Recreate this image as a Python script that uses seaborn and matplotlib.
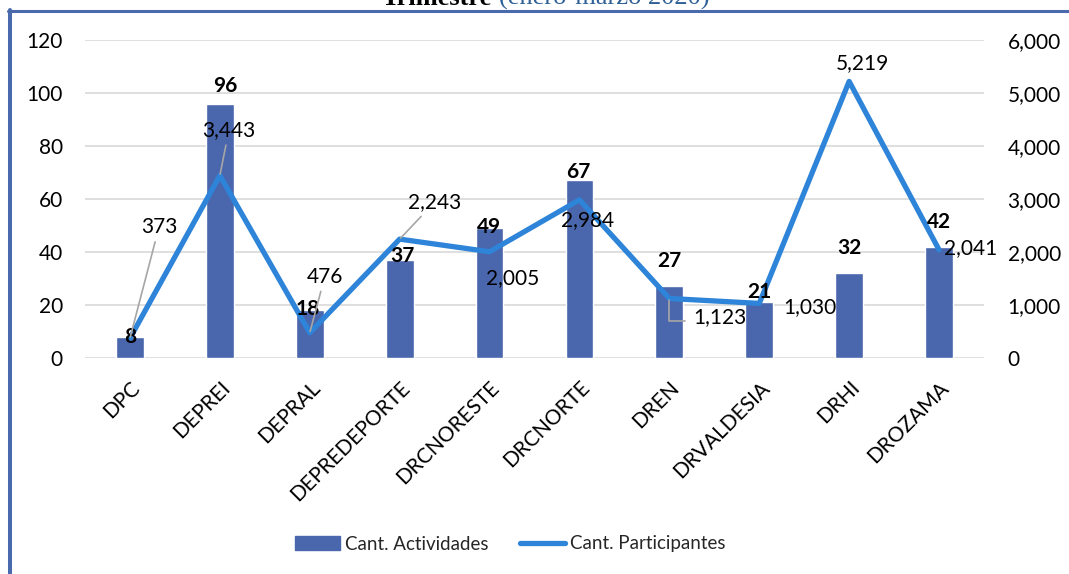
import numpy as np
import pandas as pd
import matplotlib.pyplot as plt
import seaborn as sns
from matplotlib.lines import Line2D
from matplotlib.patches import Patch
from matplotlib.ticker import FuncFormatter, MultipleLocator

# datos del trimestre
regiones = ['DPC', 'DEPREI', 'DEPRAL', 'DEPREDEPORTE', 'DRCNORESTE',
            'DRCNORTE', 'DREN', 'DRVALDESIA', 'DRHI', 'DROZAMA']
actividades = [8, 96, 18, 37, 49, 67, 27, 21, 32, 42]
participantes = [373, 3443, 476, 2243, 2005, 2984, 1123, 1030, 5219, 2041]

# where the excel labels were placed (pixel offsets from the mark)
off_act = [(0, 0), (5, 18), (-2, 1), (3, 4), (-1, 1), (-1, 8), (0, 25), (0, 10), (0, 25), (0, 25)]
off_part = [(29, 111), (9, 45), (15, 56), (35, 37), (23, -26), (8, -20), (51, -19), (51, -4), (13, 18), (32, 2)]
leader = ['line', 'line', 'line', 'line', None, None, 'elbow', None, None, None]

bar_color = '#4A66AC'
line_color = '#2E84D8'
frame_color = '#4A6AAE'
gray = '#A6A6A6'

sns.set_theme(style='white')
plt.rcParams['font.family'] = ['Lato', 'DejaVu Sans']

df = pd.DataFrame({'region': regiones, 'actividades': actividades, 'participantes': participantes})

fig = plt.figure(figsize=(10.69, 5.74), dpi=100)
W, H = 1069, 574
ax1 = fig.add_axes([85 / W, 1 - 358 / H, (984 - 85) / W, (358 - 40) / H])
ax2 = ax1.twinx()

sns.barplot(data=df, x='region', y='actividades', color=bar_color, saturation=1,
            width=0.31, ax=ax1, zorder=2)
sns.lineplot(x=np.arange(len(regiones)), y=df['participantes'], ax=ax2, color=line_color,
             lw=3.8, solid_joinstyle='round', solid_capstyle='round')

ax1.set_xlim(-0.5, len(regiones) - 0.5)
ax1.set_ylim(0, 120)
ax2.set_ylim(0, 6000)
ax1.yaxis.set_major_locator(MultipleLocator(20))
ax2.yaxis.set_major_locator(MultipleLocator(1000))
ax2.yaxis.set_major_formatter(FuncFormatter(lambda v, p: f'{int(v):,}'))

ax1.yaxis.grid(True, color='#D9D9D9', lw=1.2)
ax1.set_axisbelow(True)
for ax in (ax1, ax2):
    for s in ax.spines.values():
        s.set_visible(False)
    ax.set_xlabel('')
    ax.set_ylabel('')
ax1.tick_params(axis='y', length=0, pad=16, labelsize=15, colors='black')
ax2.tick_params(axis='y', length=0, pad=17, labelsize=15, colors='black')
ax1.tick_params(axis='x', length=0, pad=14, labelsize=15, colors='black')
ax1.set_xticks(range(len(regiones)))
ax1.set_xticklabels(regiones, rotation=45, ha='right', rotation_mode='anchor')

# etiquetas de las barras (encima de la linea)
for i, v in enumerate(actividades):
    dx, dy = off_act[i]
    ax2.annotate(str(v), xy=(i, v), xycoords=ax1.transData, xytext=(dx, dy),
                 textcoords='offset pixels', ha='center', va='center',
                 fontsize=15, fontweight='bold', color='black', zorder=5)

# etiquetas de la linea
for i, v in enumerate(participantes):
    dx, dy = off_part[i]
    kw = {}
    if leader[i] == 'line':
        kw['arrowprops'] = dict(arrowstyle='-', color=gray, lw=1.2, shrinkA=1, shrinkB=1)
    elif leader[i] == 'elbow':
        kw['arrowprops'] = dict(arrowstyle='-', color=gray, lw=1.2, shrinkA=4, shrinkB=1,
                                relpos=(0, 0.3), connectionstyle='angle,angleA=180,angleB=90,rad=0')
    ax2.annotate(f'{v:,}', xy=(i, v), xytext=(dx, dy), textcoords='offset pixels',
                 ha='center', va='center', fontsize=15, color='black', zorder=5, **kw)

# leyenda
handles = [Patch(color=bar_color),
           Line2D([0], [0], color=line_color, lw=3.8, solid_capstyle='round')]
fig.legend(handles, ['Cant. Actividades', 'Cant. Participantes'], loc='center',
           bbox_to_anchor=(510 / W, 1 - 544 / H), ncol=2, frameon=False, fontsize=13.5,
           handlelength=2.4, handleheight=0.75, handletextpad=0.27, columnspacing=1.7)

# marco del documento
fig.add_artist(Line2D([8 / W, 1], [1 - 11 / H, 1 - 11 / H], color=frame_color, lw=2.2))
fig.add_artist(Line2D([10 / W, 10 / W], [1 - 10 / H, 0], color=frame_color, lw=2.9))

# titulo cortado arriba
fig.text(492 / W, 1 - 5 / H, 'Trimestre', ha='right', va='baseline', fontsize=19,
         fontweight='bold', family='Liberation Serif', color='black')
fig.text(499 / W, 1 - 5 / H, '(enero-marzo 2020)', ha='left', va='baseline', fontsize=19,
         family='Liberation Serif', color='#2E5F96')

fig.savefig('out.png', dpi=100)
